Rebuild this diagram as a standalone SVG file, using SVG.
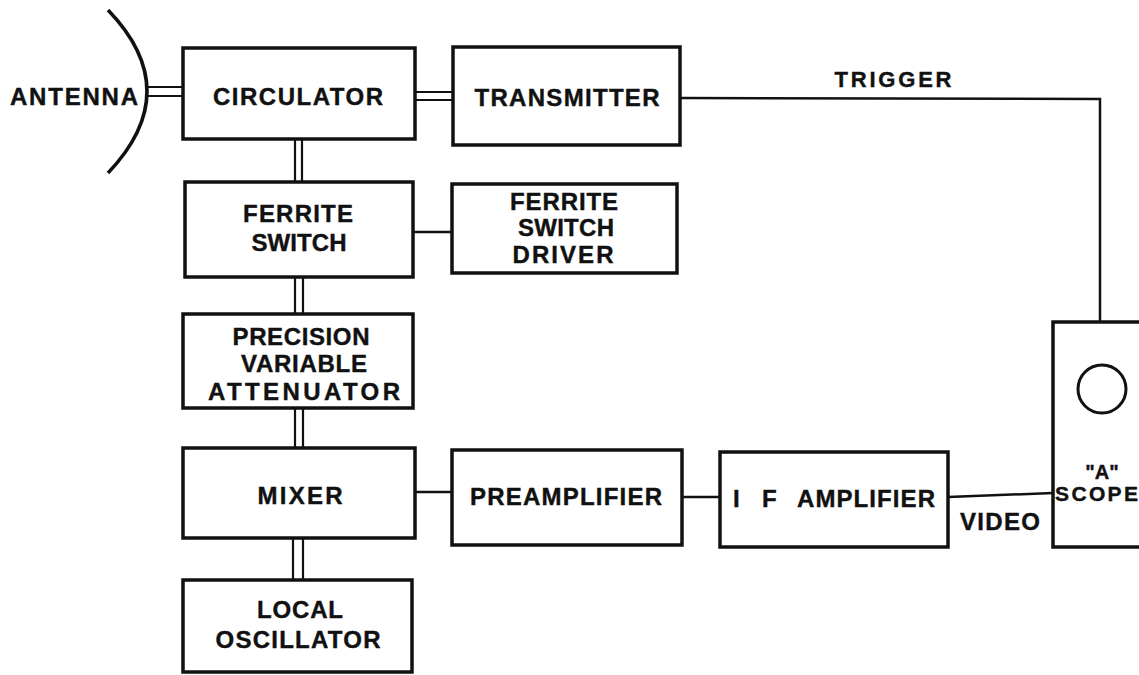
<svg xmlns="http://www.w3.org/2000/svg" width="1139" height="675" viewBox="0 0 1139 675">
<style>
.box{fill:none;stroke:#111;stroke-width:3.5}
.ln{fill:none;stroke:#111;stroke-width:2.5}
.dl{fill:none;stroke:#111;stroke-width:2.2}
text{font-family:"Liberation Sans",Arial,sans-serif;font-weight:bold;font-size:24px;fill:#111;stroke:#111;stroke-width:0.4;text-anchor:middle}
</style>
<rect width="1139" height="675" fill="#fff"/>
<g id="antenna">
<path class="box" d="M108,10 Q186,91 108,173" stroke-width="4"/>
<text x="74" y="105" textLength="128" lengthAdjust="spacing">ANTENNA</text>
</g>
<g id="circulator">
<rect class="box" x="183" y="48" width="232" height="91"/>
<text x="298" y="105" textLength="170" lengthAdjust="spacing">CIRCULATOR</text>
</g>
<g id="transmitter">
<rect class="box" x="453" y="47" width="227" height="98"/>
<text x="567" y="106" textLength="185" lengthAdjust="spacing">TRANSMITTER</text>
</g>
<g id="ferrite-switch">
<rect class="box" x="185" y="182" width="228" height="95"/>
<text x="298" y="222" textLength="110" lengthAdjust="spacing">FERRITE</text>
<text x="299" y="251" textLength="95" lengthAdjust="spacing">SWITCH</text>
</g>
<g id="ferrite-switch-driver">
<rect class="box" x="452" y="184" width="225" height="89"/>
<text x="564" y="210" textLength="108" lengthAdjust="spacing">FERRITE</text>
<text x="566" y="236" textLength="96" lengthAdjust="spacing">SWITCH</text>
<text x="563" y="263" textLength="101" lengthAdjust="spacing">DRIVER</text>
</g>
<g id="attenuator">
<rect class="box" x="183" y="314" width="230" height="94"/>
<text x="301" y="345" textLength="137" lengthAdjust="spacing">PRECISION</text>
<text x="304" y="372" textLength="126" lengthAdjust="spacing">VARIABLE</text>
<text x="304" y="400" textLength="192" lengthAdjust="spacing">ATTENUATOR</text>
</g>
<g id="mixer">
<rect class="box" x="183" y="448" width="232" height="90"/>
<text x="300" y="504" textLength="85" lengthAdjust="spacing">MIXER</text>
</g>
<g id="local-oscillator">
<rect class="box" x="183" y="580" width="229" height="92"/>
<text x="300" y="618" textLength="86" lengthAdjust="spacing">LOCAL</text>
<text x="298" y="648" textLength="165" lengthAdjust="spacing">OSCILLATOR</text>
</g>
<g id="preamplifier">
<rect class="box" x="452" y="450" width="230" height="95"/>
<text x="566" y="505" textLength="192" lengthAdjust="spacing">PREAMPLIFIER</text>
</g>
<g id="if-amplifier">
<rect class="box" x="720" y="452" width="228" height="95"/>
<text y="507" style="text-anchor:start"><tspan x="733">I</tspan><tspan x="762">F</tspan><tspan x="797" textLength="138" lengthAdjust="spacing">AMPLIFIER</tspan></text>
</g>
<g id="a-scope">
<rect class="box" x="1053" y="322" width="120" height="225"/>
<circle cx="1102" cy="389" r="24" fill="none" stroke="#111" stroke-width="3"/>
<text x="1102" y="479" style="font-size:20px">"A"</text>
<text x="1055" y="501" style="text-anchor:start;font-size:21px" textLength="83" lengthAdjust="spacing">SCOPE</text>
</g>
<g id="connectors">
<line class="dl" x1="147" y1="87" x2="183" y2="87"/>
<line class="dl" x1="147" y1="96" x2="183" y2="96"/>
<line class="dl" x1="415" y1="92" x2="453" y2="92"/>
<line class="dl" x1="415" y1="100" x2="453" y2="100"/>
<line class="dl" x1="295" y1="139" x2="295" y2="182"/>
<line class="dl" x1="302" y1="139" x2="302" y2="182"/>
<line class="ln" x1="413" y1="232" x2="452" y2="232"/>
<line class="dl" x1="295" y1="277" x2="295" y2="314"/>
<line class="dl" x1="303" y1="277" x2="303" y2="314"/>
<line class="dl" x1="295" y1="408" x2="295" y2="448"/>
<line class="dl" x1="303" y1="408" x2="303" y2="448"/>
<line class="dl" x1="293" y1="538" x2="293" y2="580"/>
<line class="dl" x1="303" y1="538" x2="303" y2="580"/>
<line class="ln" x1="415" y1="492" x2="452" y2="492"/>
<line class="ln" x1="682" y1="497" x2="720" y2="497"/>
<polyline class="ln" points="948,497 1053,493"/>
<polyline class="ln" points="680,98 1100,99 1100,322"/>
<text x="893" y="87" textLength="117" lengthAdjust="spacing" style="font-size:22px">TRIGGER</text>
<text x="1000" y="530" textLength="80" lengthAdjust="spacing">VIDEO</text>
</g>
</svg>
